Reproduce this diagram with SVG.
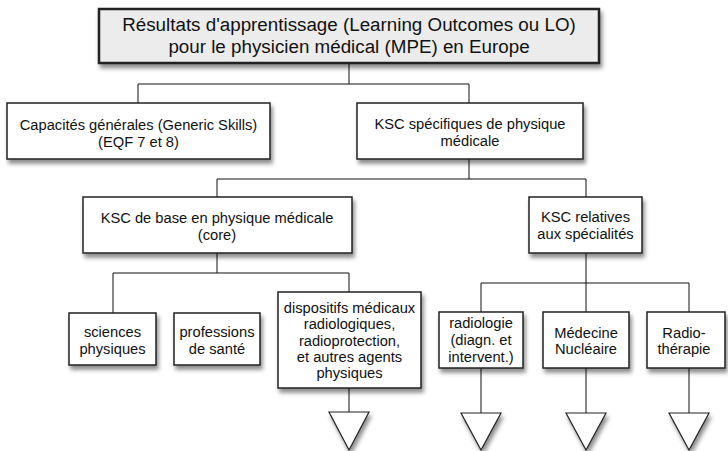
<svg xmlns="http://www.w3.org/2000/svg" width="728" height="451" viewBox="0 0 728 451">
  <defs>
    <filter id="shadow" x="-10%" y="-10%" width="130%" height="150%">
      <feDropShadow dx="2" dy="4" stdDeviation="2" flood-color="#000" flood-opacity="0.45"/>
    </filter>
    <style>
      .box { fill: #ffffff; stroke: #222; stroke-width: 1.5; filter: url(#shadow); }
      .root { fill: #ececec; stroke: #222; stroke-width: 2.5; filter: url(#shadow); }
      .tri { fill: #ffffff; stroke: #222; stroke-width: 1.2; filter: url(#shadow); }
      .wire { fill: none; stroke: #111; stroke-width: 1; }
      text { font-family: "Liberation Sans", Arial, sans-serif; font-size: 14.7px; fill: #111; text-anchor: middle; }
      .big { font-size: 18.8px; }
    </style>
  </defs>

  <!-- connectors -->
  <g id="connectors">
    <path class="wire" d="M349 63 V84 M138 103 V84 H469 V103"/>
    <path class="wire" d="M469 159 V179 M217 197 V179 H586 V197"/>
    <path class="wire" d="M217 253 V273 M113 313 V273 H349 V292"/>
    <path class="wire" d="M586 253 V283 M481 312 V283 H689 V312 M586 283 V312"/>
    <path class="wire" d="M349 388 V412 M481 368 V413 M586 368 V413 M689 368 V413"/>
  </g>

  <g id="root">
    <rect class="root" x="99" y="9" width="500" height="54"/>
    <text class="big" x="349" y="31">Résultats d'apprentissage (Learning Outcomes ou LO)</text>
    <text class="big" x="349" y="53">pour le physicien médical (MPE) en Europe</text>
  </g>

  <g id="generic-skills">
    <rect class="box" x="7" y="103" width="263" height="56"/>
    <text x="138.5" y="130">Capacités générales (Generic Skills)</text>
    <text x="138.5" y="147">(EQF 7 et 8)</text>
  </g>

  <g id="ksc-specifiques">
    <rect class="box" x="357" y="103" width="226" height="56"/>
    <text x="470" y="129">KSC spécifiques de physique</text>
    <text x="470" y="146">médicale</text>
  </g>

  <g id="ksc-base">
    <rect class="box" x="83" y="197" width="269" height="56"/>
    <text x="217" y="223">KSC de base en physique médicale</text>
    <text x="217" y="240">(core)</text>
  </g>

  <g id="ksc-specialites">
    <rect class="box" x="529" y="197" width="113" height="56"/>
    <text x="585.5" y="222">KSC relatives</text>
    <text x="585.5" y="239">aux spécialités</text>
  </g>

  <g id="sciences-physiques">
    <rect class="box" x="69" y="313" width="87" height="52"/>
    <text x="112.5" y="337">sciences</text>
    <text x="112.5" y="354">physiques</text>
  </g>

  <g id="professions-sante">
    <rect class="box" x="174" y="313" width="86" height="52"/>
    <text x="217" y="337">professions</text>
    <text x="217" y="354">de santé</text>
  </g>

  <g id="dispositifs">
    <rect class="box" x="278" y="292" width="143" height="96"/>
    <text x="349.5" y="313">dispositifs médicaux</text>
    <text x="349.5" y="329">radiologiques,</text>
    <text x="349.5" y="346">radioprotection,</text>
    <text x="349.5" y="362">et autres agents</text>
    <text x="349.5" y="378">physiques</text>
    <polygon class="tri" points="329,412 369,412 349,450"/>
  </g>

  <g id="radiologie">
    <rect class="box" x="439" y="312" width="84" height="56"/>
    <text x="481" y="328">radiologie</text>
    <text x="481" y="345">(diagn. et</text>
    <text x="481" y="362">intervent.)</text>
    <polygon class="tri" points="461,413 501,413 481,450"/>
  </g>

  <g id="medecine-nucleaire">
    <rect class="box" x="543" y="312" width="86" height="56"/>
    <text x="586" y="338">Médecine</text>
    <text x="586" y="354">Nucléaire</text>
    <polygon class="tri" points="566,413 606,413 586,450"/>
  </g>

  <g id="radiotherapie">
    <rect class="box" x="647" y="312" width="78" height="56"/>
    <text x="684" y="338">Radio-</text>
    <text x="684" y="354">thérapie</text>
    <polygon class="tri" points="669,413 709,413 689,450"/>
  </g>
</svg>
